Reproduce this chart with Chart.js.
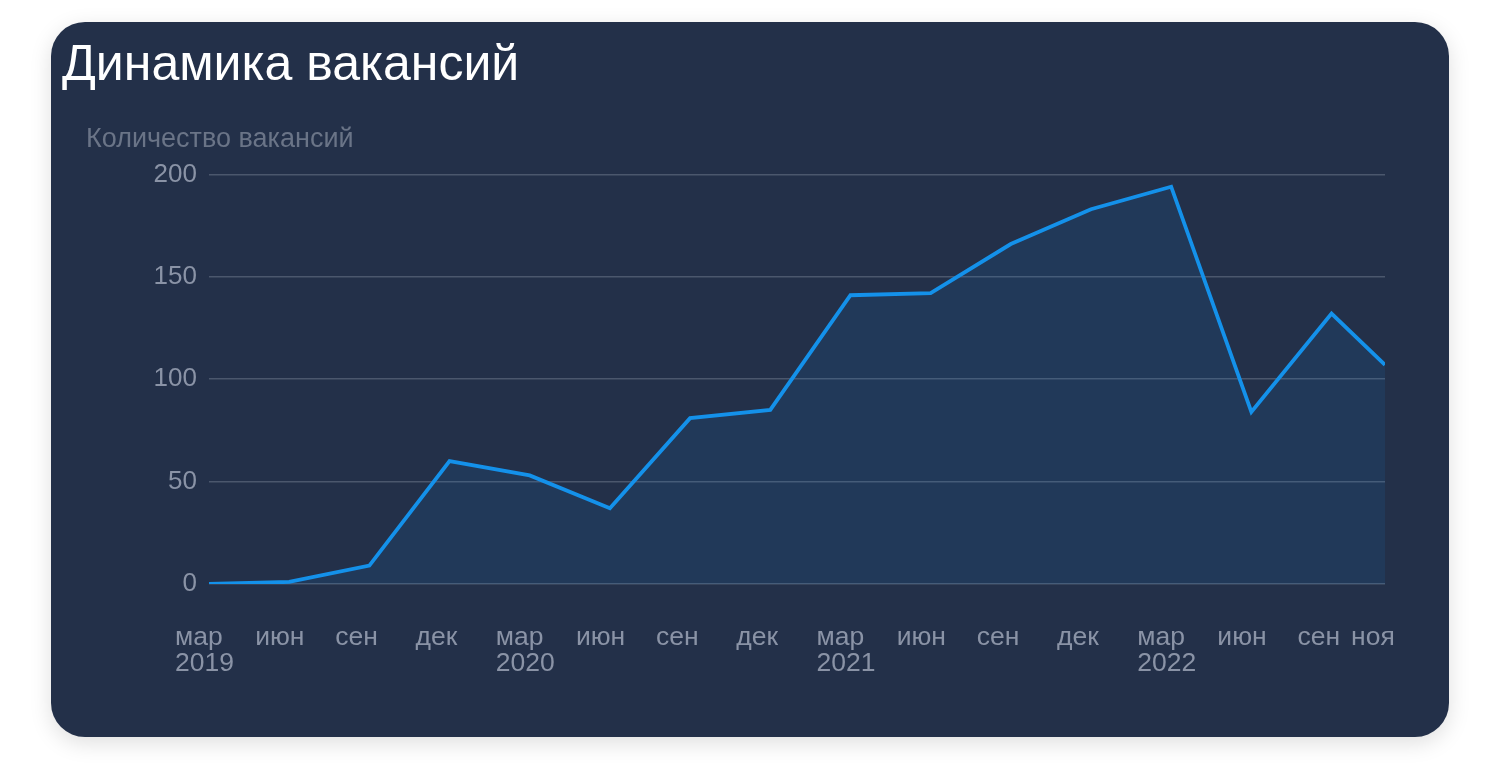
<!DOCTYPE html>
<html lang="ru">
<head>
<meta charset="utf-8">
<script src="https://cdn.jsdelivr.net/npm/chart.js@4/dist/chart.umd.min.js"></script>
<style>
  html, body { margin: 0; padding: 0; background: #ffffff; width: 1500px; height: 778px; overflow: hidden; }
  #card {
    position: absolute; left: 51px; top: 22px; width: 1398px; height: 715px;
    background: #233049; border-radius: 34px;
    box-shadow: 0 6px 22px rgba(0,0,0,0.13);
  }
  #title {
    position: absolute; left: 11px; top: 11px; margin: 0;
    font-family: "Liberation Sans", Arial, sans-serif; font-weight: normal;
    font-size: 50px; line-height: 60px; color: #ffffff; white-space: nowrap;
  }
  #wrap { position: absolute; left: 0; top: 88px; width: 1398px; height: 627px; }
</style>
</head>
<body>
<div id="card">
  <h1 id="title">Динамика вакансий</h1>
  <div id="wrap"><canvas id="c" width="1398" height="627"></canvas></div>
</div>
<script>
// months since March 2019
const monthIndex = [0, 3, 6, 9, 12, 15, 18, 21, 24, 27, 30, 33, 36, 39, 42, 44];
const vacancies  = [0, 1, 9, 60, 53, 37, 81, 85, 141, 142, 166, 183, 194, 84, 132, 107];
const tickLabels = [["мар","2019"],"июн","сен","дек",["мар","2020"],"июн","сен","дек",["мар","2021"],"июн","сен","дек",["мар","2022"],"июн","сен","ноя"];
const yTicks = [0, 50, 100, 150, 200];
const yTitle = "Количество вакансий";

const FONT = "'Liberation Sans', Arial, sans-serif";
const points = monthIndex.map((m, i) => ({ x: m, y: vacancies[i] }));
const labelShift = 1.272; // label axis shifted left relative to data axis

new Chart(document.getElementById('c'), {
  type: 'line',
  data: {
    datasets: [{
      data: points,
      xAxisID: 'x',
      borderColor: '#1491ea',
      borderWidth: 3.8,
      backgroundColor: 'rgba(24,140,235,0.10)',
      fill: 'origin',
      tension: 0,
      pointRadius: 0,
      pointHoverRadius: 0,
      borderJoinStyle: 'miter'
    }]
  },
  options: {
    responsive: false,
    animation: false,
    layout: { padding: { left: 35, right: 64, top: 0, bottom: 0 } },
    plugins: {
      legend: { display: false },
      tooltip: { enabled: false },
      title: {
        display: true, text: yTitle, align: 'start',
        color: '#6a7487',
        font: { family: FONT, size: 27, weight: 'normal' },
        padding: { top: 13, bottom: 19 }
      }
    },
    scales: {
      x: {
        type: 'linear', min: 0, max: 44, display: false
      },
      xl: {
        type: 'linear', position: 'bottom',
        min: labelShift, max: 44 + labelShift,
        grid: { display: false, drawTicks: false },
        border: { display: false },
        afterBuildTicks: (scale) => { scale.ticks = monthIndex.map(v => ({ value: v })); },
        afterFit: (scale) => { scale.height = 153; },
        ticks: {
          autoSkip: false, maxRotation: 0, minRotation: 0, align: 'start',
          padding: 40,
          color: '#8a93a6',
          font: { family: FONT, size: 26.5, lineHeight: 1.0 },
          callback: (v, i) => tickLabels[i]
        }
      },
      y: {
        min: 0, max: 200,
        afterBuildTicks: (scale) => { scale.ticks = yTicks.map(v => ({ value: v })); },
        afterFit: (scale) => { scale.width = 123; },
        grid: { color: '#4b576d', lineWidth: 1.5, drawTicks: false },
        border: { display: false },
        ticks: {
          padding: 12,
          color: '#8a93a6',
          font: { family: FONT, size: 26 }
        }
      }
    }
  }
});
</script>
</body>
</html>
